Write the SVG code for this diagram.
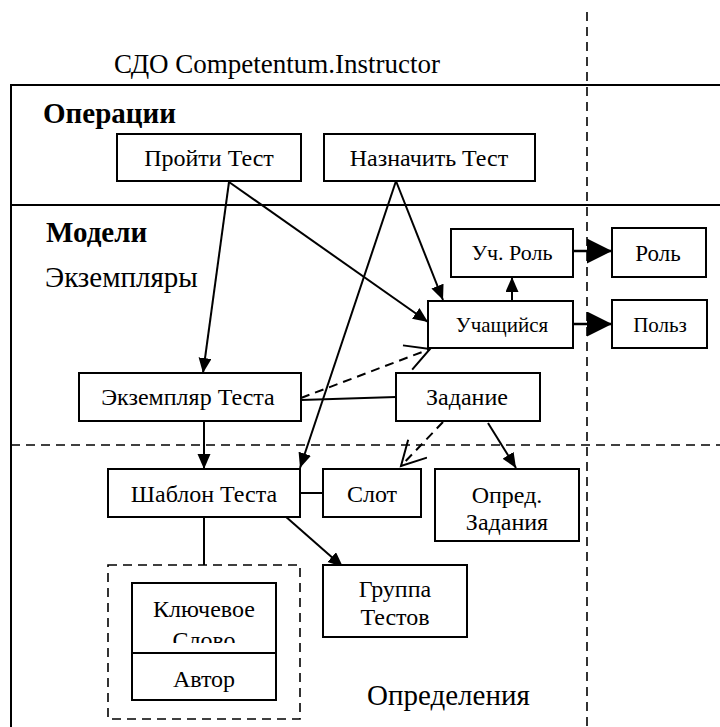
<svg xmlns="http://www.w3.org/2000/svg" width="720" height="727" viewBox="0 0 720 727" font-family="'Liberation Serif', 'DejaVu Serif', serif">
<style>
text{font-family:"Liberation Serif","DejaVu Serif",serif;fill:#000}
.n{font-size:24px;text-anchor:middle}
.s{font-size:21px;text-anchor:middle}
.h{font-size:29px;font-weight:bold}
.l{font-size:29px}
.box{fill:#fff;stroke:#000;stroke-width:2}
.frame{fill:none;stroke:#000;stroke-width:2}
.dash{fill:none;stroke:#000;stroke-width:1.6;stroke-dasharray:9 6}
.c{fill:none;stroke:#000;stroke-width:2}
.cd{fill:none;stroke:#000;stroke-width:2;stroke-dasharray:9 6}
.cb{fill:none;stroke:#000;stroke-width:2.5}
</style>
<defs>
<marker id="arr" markerUnits="userSpaceOnUse" markerWidth="16" markerHeight="14" refX="15" refY="6.5" orient="auto"><path d="M0,0 L15,6.5 L0,13 z" fill="#000"/></marker>
<marker id="big" markerUnits="userSpaceOnUse" markerWidth="26" markerHeight="26" refX="25" refY="12.5" orient="auto"><path d="M0,0 L25,12.5 L0,25 z" fill="#000"/></marker>
<marker id="open" markerUnits="userSpaceOnUse" markerWidth="28" markerHeight="30" refX="25" refY="14" orient="auto"><path d="M1,1 L25,14 L1,27" fill="none" stroke="#000" stroke-width="2"/></marker>
<clipPath id="kwclip"><rect x="132" y="583" width="144" height="60"/></clipPath>
</defs>

<g id="lanes">
<text x="114" y="73" font-size="27">СДО Competentum.Instructor</text>
<path class="frame" d="M11,727 V85 H720 M11,205 H720"/>
<path class="dash" d="M587,12 V727 M11,445 H720"/>
<text class="h" x="43" y="123">Операции</text>
<text class="h" x="46" y="242">Модели</text>
<text class="l" x="45" y="287">Экземпляры</text>
<text class="l" x="367" y="705">Определения</text>
</g>

<g id="connectors">
<path class="c" d="M229,182 L203,373" marker-end="url(#arr)"/>
<path class="c" d="M229,182 L428,322" marker-end="url(#arr)"/>
<path class="c" d="M396,181 L443,300" marker-end="url(#arr)"/>
<path class="c" d="M396,181 L300,468" marker-end="url(#arr)"/>
<path class="c" d="M204,421 L204,469" marker-end="url(#arr)"/>
<path class="c" d="M396,397 L301,400"/>
<path class="cd" d="M301,398 L430,349" marker-end="url(#open)"/>
<path class="c" d="M512,301 L512,277" marker-end="url(#arr)"/>
<path class="cb" d="M573,251 L612,251" marker-end="url(#big)"/>
<path class="cb" d="M573,324 L612,324" marker-end="url(#big)"/>
<path class="cd" d="M443,422 L401,466" marker-end="url(#open)"/>
<path class="c" d="M488,423 L516,468" marker-end="url(#arr)"/>
<path class="c" d="M300,493 L323,493"/>
<path class="c" d="M204,517 L204,565"/>
<path class="c" d="M285,516 L343,567" marker-end="url(#arr)"/>
</g>

<g id="pass-test"><rect class="box" x="117" y="134" width="184" height="47"/><text class="n" x="209" y="166">Пройти Тест</text></g>
<g id="assign-test"><rect class="box" x="324" y="134" width="211" height="47"/><text class="n" x="429" y="166">Назначить Тест</text></g>
<g id="learner-role"><rect class="box" x="451" y="229" width="122" height="48"/><text class="s" x="512" y="260" style="font-size:22px">Уч. Роль</text></g>
<g id="role"><rect class="box" x="612" y="228" width="94" height="49"/><text class="n" x="658" y="261" style="font-size:23px">Роль</text></g>
<g id="learner"><rect class="box" x="428" y="301" width="145" height="47"/><text class="s" x="502" y="332">Учащийся</text></g>
<g id="user"><rect class="box" x="612" y="300" width="95" height="48"/><text class="s" x="660" y="332">Польз</text></g>
<g id="test-instance"><rect class="box" x="79" y="373" width="222" height="48"/><text class="n" x="188" y="405">Экземпляр Теста</text></g>
<g id="task"><rect class="box" x="396" y="373" width="144" height="48"/><text class="n" x="467" y="405">Задание</text></g>
<g id="test-template"><rect class="box" x="108" y="469" width="192" height="48"/><text class="n" x="204" y="502">Шаблон Теста</text></g>
<g id="slot"><rect class="box" x="323" y="469" width="98" height="48"/><text class="n" x="372" y="502">Слот</text></g>
<g id="task-def"><rect class="box" x="435" y="469" width="144" height="72"/><text class="n" x="507" y="503">Опред.</text><text class="n" x="507" y="530">Задания</text></g>
<g id="test-group"><rect class="box" x="323" y="565" width="144" height="72"/><text class="n" x="395" y="597">Группа</text><text class="n" x="395" y="625">Тестов</text></g>
<g id="attributes">
<rect class="dash" x="108" y="565" width="192" height="154"/>
<rect class="box" x="132" y="583" width="144" height="70"/>
<g clip-path="url(#kwclip)"><text class="n" x="204" y="617">Ключевое</text><text class="n" x="204" y="648">Слово</text></g>
<rect class="box" x="132" y="653" width="144" height="47"/>
<text class="n" x="204" y="687">Автор</text>
</g>
</svg>
